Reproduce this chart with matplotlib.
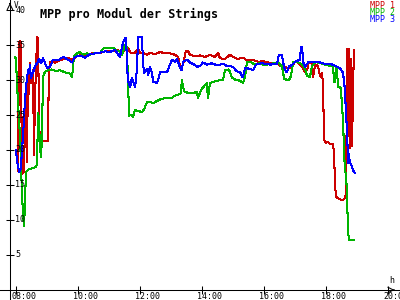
import matplotlib
matplotlib.use("Agg")
import matplotlib.pyplot as plt

# MPP 1 (red)
t_mpp1 = [8.06, 8.10, 8.16, 8.19, 8.26, 8.29, 8.32, 8.35, 8.39, 8.42, 8.45, 8.48, 8.55, 8.58, 8.61,
          8.68, 8.71, 8.74, 8.77, 8.81, 9.03, 9.06, 9.10, 9.26, 9.42, 9.52, 9.68, 9.81, 9.97, 10.16,
          10.29, 10.48, 10.61, 10.81, 10.94, 11.13, 11.26, 11.45, 11.55, 11.61, 11.68, 11.74, 11.84,
          11.94, 12.00, 12.10, 12.23, 12.32, 12.48, 12.65, 12.81, 12.97, 13.13, 13.23, 13.29, 13.35,
          13.39, 13.48, 13.55, 13.61, 13.77, 13.94, 14.10, 14.26, 14.42, 14.52, 14.58, 14.74, 14.90,
          15.00, 15.16, 15.32, 15.45, 15.61, 15.81, 15.97, 16.13, 16.29, 16.45, 16.52, 16.65, 16.77,
          16.90, 17.00, 17.06, 17.16, 17.23, 17.32, 17.39, 17.45, 17.55, 17.58, 17.65, 17.74, 17.81,
          17.87, 17.90, 17.94, 18.00, 18.06, 18.13, 18.23, 18.26, 18.29, 18.32, 18.39, 18.48, 18.55,
          18.61, 18.65, 18.68, 18.71, 18.74, 18.77, 18.81, 18.84, 18.87, 18.90]
v_mpp1 = [17.0, 35.5, 35.5, 16.5, 17.0, 24.3, 29.5, 18.3, 31.0, 28.0, 32.5, 29.5, 31.5, 19.3, 27.0,
          36.2, 36.0, 26.0, 20.4, 21.3, 21.3, 31.0, 32.6, 32.5, 32.8, 33.0, 33.2, 32.9, 33.4, 33.6,
          33.5, 33.9, 33.8, 34.0, 34.2, 34.1, 34.3, 34.0, 34.7, 34.6, 34.0, 33.8, 33.9,
          34.5, 33.9, 33.9, 33.6, 33.9, 33.7, 34.0, 33.8, 33.8, 33.6, 33.3, 32.0, 31.9,
          32.3, 34.2, 34.1, 33.6, 33.4, 33.5, 33.3, 33.6, 33.3, 33.9, 33.1, 33.0, 33.6,
          33.3, 33.0, 33.2, 32.8, 32.9, 32.6, 32.7, 32.5, 32.4, 32.5, 32.0, 31.9, 31.7,
          31.8, 32.6, 32.6, 32.2, 31.9, 31.2, 31.4, 32.6, 32.3, 30.4, 32.2, 32.0, 30.5,
          31.0, 29.6, 21.4, 21.0, 21.2, 20.8, 20.8, 19.3, 15.3, 13.3, 13.1, 12.9, 12.9,
          13.1, 14.0, 34.5, 22.0, 34.5, 20.3, 33.0, 20.5, 28.0, 34.3]

# MPP 2 (green)
t_mpp2 = [7.97, 8.00, 8.03, 8.06, 8.10, 8.13, 8.16, 8.19, 8.23, 8.26, 8.29, 8.32, 8.35, 8.42, 8.55,
          8.65, 8.68, 8.71, 8.74, 8.77, 8.81, 8.84, 8.87, 8.94, 9.03, 9.16, 9.29, 9.42, 9.58, 9.74,
          9.81, 9.87, 9.97, 10.06, 10.16, 10.29, 10.39, 10.55, 10.71, 10.81, 10.97, 11.13, 11.26,
          11.35, 11.42, 11.52, 11.58, 11.61, 11.65, 11.71, 11.77, 11.84, 11.94, 12.06, 12.13, 12.23,
          12.32, 12.42, 12.55, 12.68, 12.81, 13.03, 13.10, 13.23, 13.32, 13.35, 13.42, 13.52, 13.68,
          13.84, 13.87, 13.97, 14.10, 14.16, 14.19, 14.26, 14.35, 14.48, 14.68, 14.74, 14.87, 14.97,
          15.10, 15.23, 15.32, 15.39, 15.45, 15.55, 15.71, 15.87, 16.03, 16.19, 16.35, 16.45, 16.58,
          16.65, 16.74, 16.81, 16.87, 16.94, 17.06, 17.16, 17.26, 17.32, 17.39, 17.48, 17.55, 17.68,
          17.81, 17.97, 18.13, 18.23, 18.26, 18.29, 18.32, 18.35, 18.39, 18.48, 18.52, 18.55, 18.58,
          18.61, 18.65, 18.68, 18.71, 18.74, 18.90]
v_mpp2 = [33.3, 33.0, 29.5, 27.3, 24.0, 22.0, 18.0, 14.0, 10.5, 9.2, 12.5, 16.7, 17.0, 17.3, 17.4,
          17.6, 18.0, 25.3, 24.5, 20.5, 19.0, 22.5, 30.5, 31.2, 31.4, 31.5, 31.3, 31.4, 31.1, 30.9,
          30.4, 33.4, 33.8, 34.0, 33.6, 33.8, 33.6, 33.9, 33.8, 34.5, 34.6, 34.6, 34.1,
          34.1, 33.6, 35.0, 34.6, 30.0, 24.9, 25.0, 24.7, 25.7, 25.6, 25.4, 25.8, 26.9,
          26.9, 26.7, 27.0, 27.3, 27.4, 27.4, 27.7, 27.9, 28.1, 30.0, 28.4, 28.2, 28.1,
          28.3, 27.4, 28.6, 29.3, 29.6, 27.4, 29.6, 29.7, 29.9, 30.0, 31.4, 31.5, 30.3,
          30.0, 29.9, 29.6, 30.4, 32.6, 32.6, 32.2, 32.4, 32.1, 32.3, 32.4, 32.6, 31.9,
          30.2, 30.0, 30.0, 30.6, 32.6, 32.6, 32.4, 32.0, 31.6, 30.6, 30.4, 32.0, 32.6,
          32.4, 32.2, 32.0, 31.9, 29.7, 29.8, 31.7, 31.6, 29.0, 28.9, 26.0, 24.3, 20.0,
          17.1, 16.5, 12.9, 8.6, 7.1, 7.1]

# MPP 3 (blue)
t_mpp3 = [8.00, 8.03, 8.10, 8.13, 8.16, 8.19, 8.23, 8.26, 8.29, 8.32, 8.39, 8.42, 8.45, 8.48, 8.55,
          8.61, 8.68, 8.74, 8.81, 8.87, 8.94, 9.00, 9.10, 9.19, 9.35, 9.52, 9.68, 9.81, 9.90, 10.06,
          10.23, 10.39, 10.55, 10.71, 10.87, 11.03, 11.19, 11.35, 11.45, 11.52, 11.55, 11.58, 11.61,
          11.68, 11.74, 11.77, 11.84, 11.90, 11.94, 12.06, 12.10, 12.13, 12.23, 12.26, 12.32, 12.39,
          12.42, 12.55, 12.58, 12.65, 12.87, 12.94, 13.03, 13.13, 13.19, 13.23, 13.29, 13.35, 13.39,
          13.52, 13.61, 13.71, 13.84, 13.94, 14.03, 14.16, 14.32, 14.48, 14.68, 14.81, 15.00, 15.10,
          15.23, 15.29, 15.32, 15.39, 15.55, 15.65, 15.74, 15.94, 16.19, 16.42, 16.48, 16.58, 16.61,
          16.68, 16.74, 16.81, 16.90, 17.00, 17.16, 17.19, 17.23, 17.26, 17.32, 17.42, 17.58, 17.81,
          17.97, 18.23, 18.35, 18.45, 18.55, 18.61, 18.65, 18.68, 18.71, 18.74, 18.77, 18.81, 18.87,
          18.94]
v_mpp3 = [20.0, 18.5, 16.9, 17.1, 17.3, 20.0, 22.0, 25.0, 26.9, 28.9, 31.5, 31.2, 32.1, 30.3, 31.1,
          31.9, 32.4, 33.0, 32.4, 33.1, 32.4, 31.7, 31.9, 32.9, 32.8, 33.3, 32.9, 32.5, 33.3, 33.5,
          33.2, 33.7, 33.8, 33.9, 34.1, 34.0, 34.3, 33.3, 35.3, 36.0, 36.0, 32.4, 30.0,
          29.0, 30.3, 29.9, 29.0, 31.4, 36.2, 36.2, 32.4, 31.0, 31.6, 30.7, 31.9, 31.0,
          29.7, 29.6, 30.0, 31.1, 31.1, 31.9, 32.9, 32.6, 33.0, 32.6, 31.7, 31.4, 32.6,
          32.9, 32.5, 32.3, 31.9, 32.0, 32.5, 32.2, 32.4, 32.1, 32.3, 32.0, 31.9, 31.3,
          31.1, 30.5, 30.4, 31.7, 31.6, 31.4, 32.2, 32.4, 32.2, 32.3, 33.6, 33.6, 32.6,
          31.4, 31.1, 32.0, 32.1, 32.6, 32.9, 34.7, 34.7, 32.6, 31.9, 32.5, 32.6, 32.5,
          32.3, 32.2, 31.9, 31.7, 31.0, 28.6, 24.7, 22.9, 18.1, 19.5, 18.1, 18.0, 17.1,
          16.7]

series = ["MPP 1", "MPP 2", "MPP 3"]
colors = ["#cc0000", "#00b400", "#0000ff"]
y_ticks = [5, 10, 15, 20, 25, 30, 35, 40]
x_ticks = [8, 10, 12, 14, 16, 18, 20]
x_labels = ["08:00", "10:00", "12:00", "14:00", "16:00", "18:00", "20:00"]

mono = "DejaVu Sans Mono"

fig = plt.figure(figsize=(4, 3), dpi=100)
ax = fig.add_axes([0, 0, 1, 1])
ax.set_xlim(7.484, 20.387)
ax.set_ylim(-1.43, 41.43)
y_axis_x = 7.806

for t, v, c in zip([t_mpp1, t_mpp2, t_mpp3], [v_mpp1, v_mpp2, v_mpp3], colors):
    ax.plot(t, v, color=c, lw=0.75, antialiased=False)

# axes with arrows
for s in ["top", "right"]:
    ax.spines[s].set_visible(False)
ax.spines["left"].set_position(("data", y_axis_x))
ax.spines["bottom"].set_position(("data", 0))
ax.spines["left"].set_linewidth(0.75)
ax.spines["bottom"].set_linewidth(0.75)
ax.set_xticks(x_ticks)
ax.set_yticks(y_ticks)
ax.tick_params(axis="both", direction="inout", length=6, width=0.75,
               labelleft=False, labelbottom=False)
ax.annotate("", xy=(y_axis_x, 41.4), xytext=(y_axis_x, 40.5),
            arrowprops=dict(arrowstyle="->", lw=0.75, color="black"))
ax.annotate("", xy=(20.3, 0), xytext=(20.1, 0),
            arrowprops=dict(arrowstyle="->", lw=0.75, color="black"))

for yv in y_ticks:
    ax.text(y_axis_x + 0.17, yv, str(yv), fontsize=6, family=mono,
            ha="left", va="center")
for xv, lab in zip(x_ticks, x_labels):
    ax.text(xv - 0.16, -1.3, lab, fontsize=6, family=mono, ha="left", va="baseline")

ax.text(y_axis_x + 0.12, 41.3, "V", fontsize=5.5, family=mono, ha="left", va="top")
ax.text(20.05, 0.7, "h", fontsize=6, family=mono, ha="left", va="bottom")

fig.text(0.1, 0.975, "MPP pro Modul der Strings", fontsize=8.5, family=mono,
         fontweight="bold", ha="left", va="top")
for i, (name, c) in enumerate(zip(series, colors)):
    fig.text(0.988, 1 - (8 + 7 * i) / 300, name, fontsize=6, family=mono, color=c,
             ha="right", va="baseline")

fig.savefig("out.png", dpi=100)
